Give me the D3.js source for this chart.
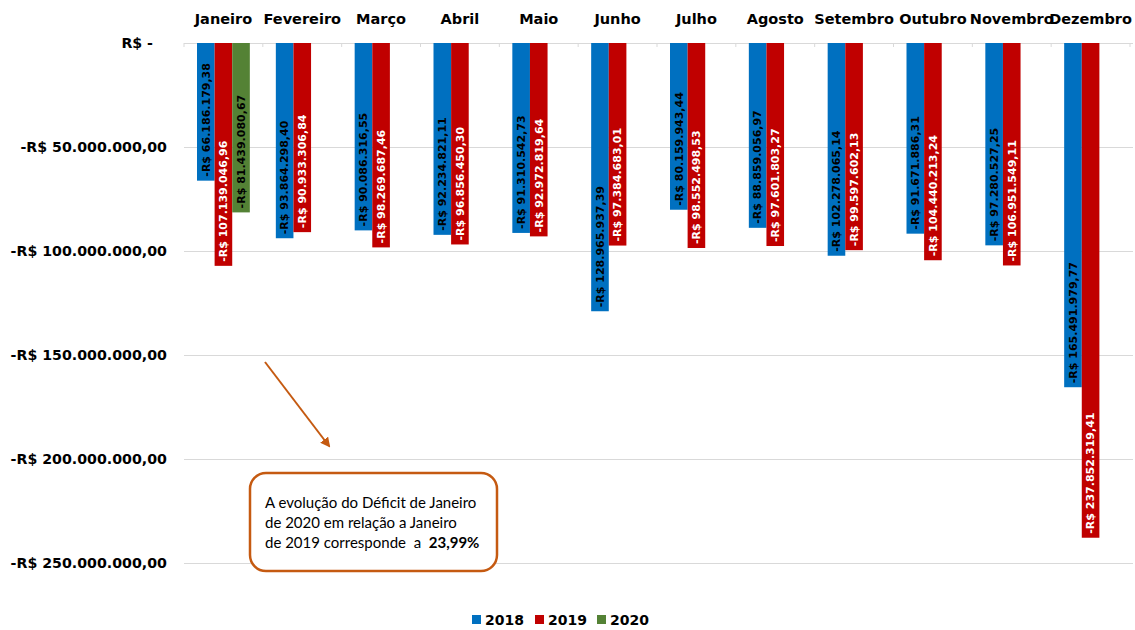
<!DOCTYPE html>
<meta charset="utf-8">
<style>
body { margin: 0; background: #fff; }
.grid line { stroke: #d9d9d9; stroke-width: 1px; shape-rendering: crispEdges; }
.grid path { stroke-width: 0; }
.lbl { font-family: "DejaVu Sans", sans-serif; font-weight: bold; }
.note { font-family: Lato, "Open Sans", sans-serif; font-size: 15px; fill: #000; white-space: pre; }
</style>
<body>
<script src="https://d3js.org/d3.v7.min.js"></script>
<script>

// data
var months = ["Janeiro", "Fevereiro", "Março", "Abril", "Maio", "Junho", "Julho",
              "Agosto", "Setembro", "Outubro", "Novembro", "Dezembro"];
var years = ["2018", "2019", "2020"];
var v2018 = [-66186179.38, -93864298.40, -90086316.55, -92234821.11, -91310542.73, -128965937.39,
             -80159943.44, -88859056.97, -102278065.14, -91671886.31, -97280527.25, -165491979.77];
var v2019 = [-107139046.96, -90933306.84, -98269687.46, -96856450.30, -92972819.64, -97384683.01,
             -98552498.53, -97601803.27, -99597602.13, -104440213.24, -106951549.11, -237852319.41];
var v2020 = [-81439080.67];
var yTicks = [0, -50000000, -100000000, -150000000, -200000000, -250000000];
var colors = {"2018": "#0070C0", "2019": "#C00000", "2020": "#548235"};
var labelColors = {"2018": "#000", "2019": "#fff", "2020": "#000"};

var W = 1135, H = 630;
var margin = {left: 184, right: 5, top: 43};

var svg = d3.select("body").append("svg")
    .attr("width", W)
    .attr("height", H);

// pt-BR currency format
var br = d3.formatLocale({decimal: ",", thousands: ".", grouping: [3], currency: ["R$ ", ""], minus: "-"});
var money = br.format("$,.2f");

var x = d3.scaleBand().domain(months).range([margin.left, 1130]);
var xs = d3.scaleBand().domain(years).range([13, x.bandwidth() - 13]);
var y = d3.scaleLinear().domain([-250000000, 0]).range([563, margin.top]);

// gridlines + y labels
var yAxis = svg.append("g")
    .attr("class", "grid")
    .attr("transform", "translate(" + margin.left + ",0)")
    .call(d3.axisLeft(y).tickValues(yTicks).tickSize(-(1133 - margin.left))
        .tickFormat(function(d) { return d === 0 ? "R$ -" : money(d); }));
yAxis.selectAll("text")
    .attr("class", "lbl")
    .attr("x", -17)
    .style("font-size", "14.2px")
    .attr("fill", "#000")
    .attr("dx", function(d) { return d === 0 ? "-14px" : 0; });

// small ticks on the zero line at category edges
svg.append("g").selectAll("line")
    .data(months.concat(["_end"]))
  .enter().append("line")
    .attr("x1", function(d) { return d === "_end" ? x.range()[1] : x(d); })
    .attr("x2", function(d) { return d === "_end" ? x.range()[1] : x(d); })
    .attr("y1", y(0))
    .attr("y2", y(0) + 4)
    .attr("stroke", "#d9d9d9");

// month labels on top
svg.append("g").selectAll("text")
    .data(months)
  .enter().append("text")
    .attr("class", "lbl")
    .attr("x", function(d) { return x(d) + x.bandwidth() / 2; })
    .attr("y", 24)
    .attr("text-anchor", "middle")
    .style("font-size", "14.5px")
    .text(function(d) { return d; });

// build rows
var rows = [];
months.forEach(function(m, i) {
  rows.push({month: m, year: "2018", value: v2018[i]});
  rows.push({month: m, year: "2019", value: v2019[i]});
  if (v2020[i] !== undefined) rows.push({month: m, year: "2020", value: v2020[i]});
});

// bars
svg.append("g").selectAll("rect")
    .data(rows)
  .enter().append("rect")
    .attr("x", function(d) { return x(d.month) + xs(d.year); })
    .attr("y", y(0))
    .attr("width", xs.bandwidth())
    .attr("height", function(d) { return y(d.value) - y(0); })
    .attr("fill", function(d) { return colors[d.year]; });

// data labels (rotated, inside end)
svg.append("g").selectAll("text")
    .data(rows)
  .enter().append("text")
    .attr("class", "lbl")
    .attr("transform", function(d) {
      return "translate(" + (x(d.month) + xs(d.year) + xs.bandwidth() / 2) + "," + (y(d.value) - 4) + ") rotate(-90)";
    })
    .attr("dy", "0.35em")
    .attr("text-anchor", "start")
    .style("font-size", "11px")
    .attr("fill", function(d) { return labelColors[d.year]; })
    .text(function(d) { return money(d.value); });

// annotation arrow
svg.append("defs").append("marker")
    .attr("id", "arrow")
    .attr("viewBox", "0 0 10 10")
    .attr("refX", 8).attr("refY", 5)
    .attr("markerWidth", 5).attr("markerHeight", 5)
    .attr("orient", "auto")
  .append("path")
    .attr("d", "M0,0L10,5L0,10z")
    .attr("fill", "#C55A11");

svg.append("line")
    .attr("x1", 265).attr("y1", 362)
    .attr("x2", 329).attr("y2", 446)
    .attr("stroke", "#C55A11")
    .attr("stroke-width", 2)
    .attr("marker-end", "url(#arrow)");

// annotation box
svg.append("rect")
    .attr("x", 250).attr("y", 473)
    .attr("width", 247).attr("height", 98)
    .attr("rx", 16)
    .attr("fill", "#fff")
    .attr("stroke", "#C55A11")
    .attr("stroke-width", 2.5);

var note = svg.append("text").attr("class", "note");
note.append("tspan").attr("x", 265).attr("y", 508).text("A evolução do Déficit de Janeiro");
note.append("tspan").attr("x", 265).attr("y", 528).text("de 2020 em relação a Janeiro");
note.append("tspan").attr("x", 265).attr("y", 548).text("de 2019 corresponde  a  ");
note.append("tspan").style("font-weight", "bold").text("23,99%");

// legend
var legend = svg.append("g").attr("transform", "translate(472,620)");
var lx = {"2018": 0, "2019": 63, "2020": 125};
years.forEach(function(yr) {
  var g = legend.append("g").attr("transform", "translate(" + lx[yr] + ",0)");
  g.append("rect").attr("x", 0).attr("y", -5).attr("width", 9).attr("height", 9).attr("fill", colors[yr]);
  g.append("text").attr("class", "lbl").attr("x", 13).attr("y", 0).attr("dy", "0.35em")
    .style("font-size", "14px").text(yr);
});

</script>
</body>
